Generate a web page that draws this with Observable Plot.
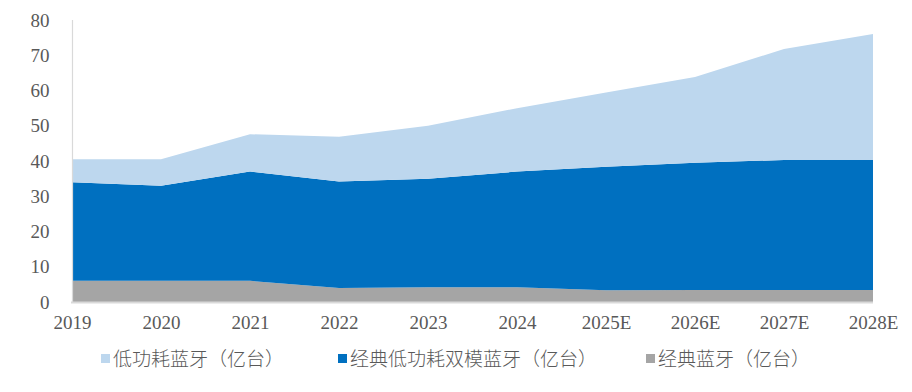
<!DOCTYPE html>
<html><head><meta charset="utf-8">
<script src="https://cdn.jsdelivr.net/npm/d3@7"></script>
<script src="https://cdn.jsdelivr.net/npm/@observablehq/plot@0.6"></script>
<style>
body{margin:0;background:#fff;}
#wrap{position:relative;width:912px;height:392px;overflow:hidden;}
.leg{position:absolute;top:345px;display:flex;align-items:center;font-family:"Noto Sans CJK SC",sans-serif;font-size:19px;color:#595959;font-weight:300;white-space:nowrap;line-height:26px}
.sw{width:9px;height:9px;margin-right:3px;flex:none}
</style></head><body><div id="wrap"></div>
<script>
const years = ["2019","2020","2021","2022","2023","2024","2025E","2026E","2027E","2028E"];
const classicBT   = [6, 6, 6, 4, 4.2, 4.2, 3.3, 3.4, 3.4, 3.4];
const dualModeBT  = [28, 27, 31, 30.2, 30.8, 32.8, 35.1, 36.1, 36.9, 36.9];
const lowEnergyBT = [6.5, 7.5, 10.6, 12.7, 15, 18, 21, 24.3, 31.5, 35.7];
const seriesNames = ["经典蓝牙（亿台）", "经典低功耗双模蓝牙（亿台）", "低功耗蓝牙（亿台）"];
const seriesColors = ["#A5A5A5", "#0070C0", "#BDD7EE"];
const yTicks = [0, 10, 20, 30, 40, 50, 60, 70, 80];
const legendOrder = [2, 1, 0];
const legendLeft = [101, 338, 646];

const allSeries = [classicBT, dualModeBT, lowEnergyBT];
const rows = [];
allSeries.forEach((vals, si) => vals.forEach((v, i) => rows.push({year: years[i], value: v, series: seriesNames[si]})));

const chart = Plot.plot({
  width: 912,
  height: 340,
  marginLeft: 71,
  marginRight: 39,
  marginTop: 20,
  marginBottom: 38,
  style: {fontFamily: '"Liberation Serif", "Times New Roman", serif', fontSize: "19px", color: "#595959", background: "#fff"},
  x: {type: "point", domain: years, padding: 0, label: null, tickSize: 0, tickPadding: 13},
  y: {domain: [0, 80], ticks: yTicks, label: null, tickSize: 0, tickPadding: 22},
  color: {domain: seriesNames, range: seriesColors},
  marks: [
    Plot.areaY(rows, {x: "year", y: "value", fill: "series", curve: "linear"}),
    Plot.ruleX([years[0]], {stroke: "#D9D9D9", strokeWidth: 1.2}),
    Plot.ruleY([0], {stroke: "#D9D9D9", strokeWidth: 2})
  ]
});
const wrap = document.getElementById("wrap");
wrap.appendChild(chart);
legendOrder.forEach((si, k) => {
  const d = document.createElement("div");
  d.className = "leg";
  d.style.left = legendLeft[k] + "px";
  d.innerHTML = `<div class="sw" style="background:${seriesColors[si]}"></div><span>${seriesNames[si]}</span>`;
  wrap.appendChild(d);
});
</script></body></html>
